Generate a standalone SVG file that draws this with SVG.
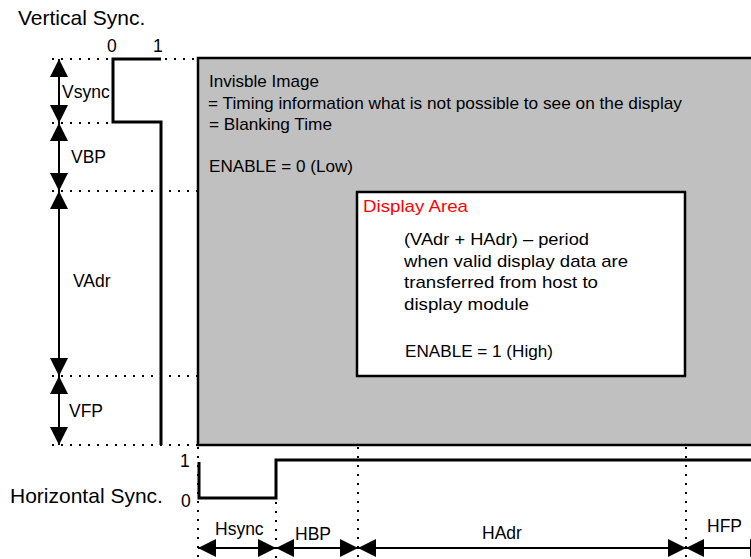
<svg xmlns="http://www.w3.org/2000/svg" width="751" height="559" viewBox="0 0 751 559">
<style>
text{font-family:"Liberation Sans",Arial,sans-serif;fill:#000}
.t{font-size:17px}
.lab{font-size:17.5px}
.big{font-size:21px}
.dot{stroke:#000;stroke-width:2;stroke-dasharray:2,7;fill:none}
.wave{stroke:#000;stroke-width:3;fill:none;stroke-linejoin:miter}
.dim{stroke:#000;stroke-width:2;fill:none;marker-start:url(#ah);marker-end:url(#ah)}
</style>
<defs>
<marker id="ah" viewBox="0 0 18 18" refX="18" refY="9" markerWidth="18" markerHeight="18" markerUnits="userSpaceOnUse" orient="auto-start-reverse">
<path d="M0,0 L18,9 L0,18 Z" fill="#000"/>
</marker>
</defs>
<rect width="751" height="559" fill="#fff"/>
<g id="invisible-image">
<rect x="198" y="58" width="560" height="387" fill="#c0c0c0" stroke="#000" stroke-width="2.5"/>
<text class="t" x="209" y="87" textLength="110" lengthAdjust="spacingAndGlyphs">Invisble Image</text>
<text class="t" x="208" y="109" textLength="474" lengthAdjust="spacingAndGlyphs">= Timing information what is not possible to see on the display</text>
<text class="t" x="209" y="130" textLength="123" lengthAdjust="spacingAndGlyphs">= Blanking Time</text>
<text class="t" x="209" y="172" textLength="144" lengthAdjust="spacingAndGlyphs">ENABLE = 0 (Low)</text>
</g>
<g id="display-area">
<rect x="357" y="192" width="328" height="184" fill="#fff" stroke="#000" stroke-width="2.5"/>
<text class="t" x="363" y="212" style="fill:#ff0000" textLength="105" lengthAdjust="spacingAndGlyphs">Display Area</text>
<text class="t" x="404" y="245" textLength="185" lengthAdjust="spacingAndGlyphs">(VAdr + HAdr) – period</text>
<text class="t" x="404" y="267" textLength="224" lengthAdjust="spacingAndGlyphs">when valid display data are</text>
<text class="t" x="404" y="288" textLength="194" lengthAdjust="spacingAndGlyphs">transferred from host to</text>
<text class="t" x="404" y="310" textLength="125" lengthAdjust="spacingAndGlyphs">display module</text>
<text class="t" x="405" y="357" textLength="148" lengthAdjust="spacingAndGlyphs">ENABLE = 1 (High)</text>
</g>
<g id="connectors">
<path class="dot" d="M52,59 H110 M165,59 H198 M52,123 H110 M52,191 H198 M52,376 H198 M52,445 H198"/>
<path class="dot" d="M198,447 V559 M276,502 V559 M358,447 V559 M686,447 V559"/>
<path class="dim" d="M59,59 V123"/>
<path class="dim" d="M59,123 V191"/>
<path class="dim" d="M59,191 V376"/>
<path class="dim" d="M59,376 V445"/>
<path class="dim" d="M198,548 H276"/>
<path class="dim" d="M276,548 H358"/>
<path class="dim" d="M358,548 H686"/>
<path class="dim" d="M686,548 H768"/>
</g>
<g id="vertical-sync">
<text class="big" x="18" y="25">Vertical Sync.</text>
<text class="lab" x="107" y="52">0</text>
<text class="lab" x="153" y="52">1</text>
<path class="wave" d="M161,59 H113 V122 H161 V445"/>
<text class="lab" x="62" y="98">Vsync</text>
<text class="lab" x="71" y="163">VBP</text>
<text class="lab" x="73" y="287">VAdr</text>
<text class="lab" x="69" y="417">VFP</text>
</g>
<g id="horizontal-sync">
<text class="big" x="10" y="503">Horizontal Sync.</text>
<text class="lab" x="180" y="467">1</text>
<text class="lab" x="181" y="507">0</text>
<path class="wave" d="M199,462 V498 H276 V460 H751"/>
<text class="lab" x="215" y="535">Hsync</text>
<text class="lab" x="295" y="540">HBP</text>
<text class="lab" x="482" y="539">HAdr</text>
<text class="lab" x="707" y="532">HFP</text>
</g>
</svg>
